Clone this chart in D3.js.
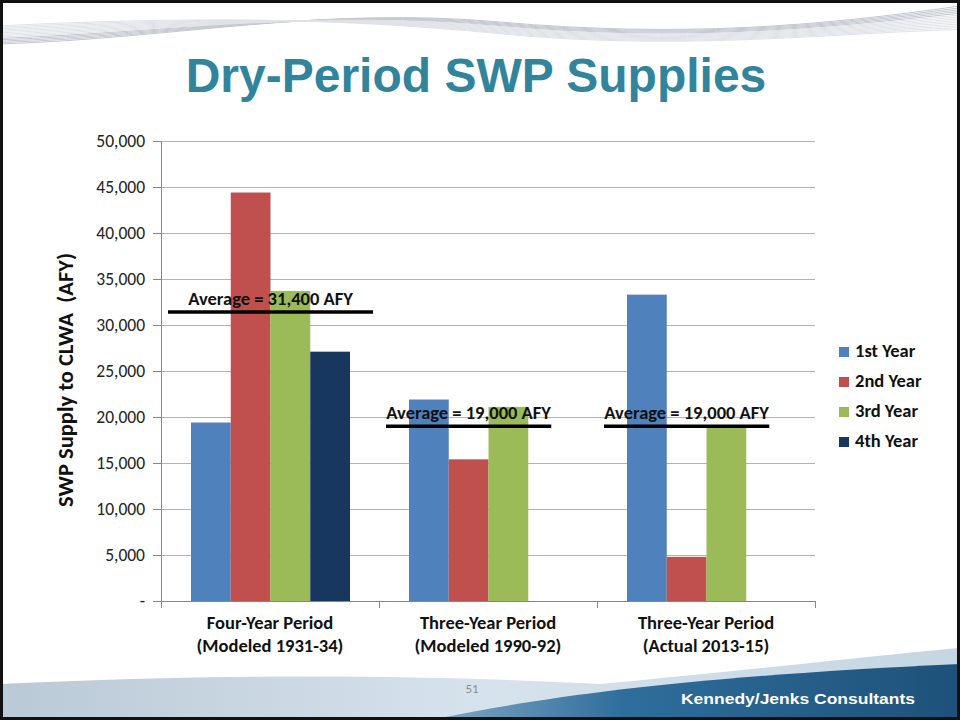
<!DOCTYPE html>
<html>
<head>
<meta charset="utf-8">
<script src="https://cdn.jsdelivr.net/npm/d3@7"></script>
<style>
  body { margin: 0; background: #fff; }
  svg { display: block; }
</style>
</head>
<body>
<div id="chart"></div>
<script>
    var categories = ["Four-Year Period", "Three-Year Period", "Three-Year Period "];
    var categorySub = ["(Modeled 1931-34)", "(Modeled 1990-92)", "(Actual 2013-15)"];
    var seriesNames = ["1st Year", "2nd Year", "3rd Year", "4th Year"];
    var year1 = [19400, 21900, 33300];
    var year2 = [44400, 15400, 4800];
    var year3 = [33700, 21100, 19000];
    var year4 = [27100, null, null];
    var averages = [31400, 19000, 19000];
    var averageLabels = ["Average = 31,400 AFY", "Average = 19,000 AFY", "Average = 19,000 AFY"];
    var yTicks = [0, 5000, 10000, 15000, 20000, 25000, 30000, 35000, 40000, 45000, 50000];
    var yTickLabels = ["-", "5,000", "10,000", "15,000", "20,000", "25,000", "30,000", "35,000", "40,000", "45,000", "50,000"];

    var width = 960;
    var height = 723;
    var calibri = "Carlito, Lato, 'Open Sans', sans-serif";

    var svg = d3.select('#chart').append("svg")
        .attr("width", width)
        .attr("height", height);

    var defs = svg.append("defs");
    var g1 = defs.append("linearGradient").attr("id", "footLight").attr("x1", 0).attr("x2", 1).attr("y1", 0).attr("y2", 0);
    g1.append("stop").attr("offset", 0).attr("stop-color", "#b9c9d6");
    g1.append("stop").attr("offset", 0.5).attr("stop-color", "#d7e3ec");
    g1.append("stop").attr("offset", 1).attr("stop-color", "#c4d6e4");
    var g2 = defs.append("linearGradient").attr("id", "footDark").attr("x1", 0).attr("x2", 1).attr("y1", 0).attr("y2", 0);
    g2.append("stop").attr("offset", 0).attr("stop-color", "#7fa6c4");
    g2.append("stop").attr("offset", 0.35).attr("stop-color", "#2f6e9c");
    g2.append("stop").attr("offset", 1).attr("stop-color", "#1d5179");

    // top swoosh
    var swoosh = svg.append("g").attr("fill", "none");
    for (var i = 0; i < 14; i++) {
      swoosh.append("path")
        .attr("d", "M0," + (44 - i * 1.4) + " C180," + (38 - i * 1.6) + " 320," + (6 + i * 0.8) +
              " 500," + (22 + i * 0.9) + " S820," + (26 + i * 0.6) + " 960," + (6 + i * 1.8))
        .attr("stroke", i < 5 ? "#c3c9d1" : "#dfe3e8")
        .attr("stroke-width", 1);
    }

    // footer
    svg.append("path")
        .attr("d", "M0,684 C250,672 450,676 600,684 C750,670 880,655 960,648 L960,718 L0,718 Z")
        .attr("fill", "url(#footLight)");
    svg.append("path")
        .attr("d", "M440,718 C560,694 700,676 960,664 L960,718 Z")
        .attr("fill", "url(#footDark)");
    svg.append("text")
        .attr("x", 681).attr("y", 704)
        .attr("font-family", "'Liberation Sans', Arial, sans-serif")
        .attr("font-weight", "bold")
        .attr("font-size", 15.5)
        .attr("textLength", 234)
        .attr("lengthAdjust", "spacingAndGlyphs")
        .attr("fill", "#fff")
        .text("Kennedy/Jenks Consultants");
    svg.append("text")
        .attr("x", 472).attr("y", 693)
        .attr("text-anchor", "middle")
        .attr("font-family", calibri)
        .attr("font-size", 13)
        .attr("fill", "#8c8c8c")
        .text("51");

    // frame
    svg.append("rect")
        .attr("x", 1.5).attr("y", 1.5)
        .attr("width", width - 3).attr("height", height - 6)
        .attr("fill", "none")
        .attr("stroke", "#111")
        .attr("stroke-width", 3);

    // title
    svg.append("text")
        .attr("x", 476).attr("y", 92)
        .attr("text-anchor", "middle")
        .attr("font-family", "'Liberation Sans', Arial, sans-serif")
        .attr("font-weight", "bold")
        .attr("font-size", 48)
        .attr("fill", "#31849b")
        .text("Dry-Period SWP Supplies");

    var margin = { top: 141, left: 161, right: 145, bottom: 122 };
    var plotW = width - margin.left - margin.right;
    var plotH = height - margin.top - margin.bottom;

    var chart = svg.append("g")
        .attr("transform", "translate(" + margin.left + "," + margin.top + ")");

    var x0 = d3.scaleBand()
        .domain(categories)
        .range([0, plotW]);

    var x1 = d3.scaleBand()
        .domain(seriesNames)
        .range([30, 189]);

    var y = d3.scaleLinear()
        .domain([0, 50000])
        .range([plotH, 0]);

    var color = d3.scaleOrdinal()
        .domain(seriesNames)
        .range(["#4f81bd", "#c0504d", "#9bbb59", "#17375e"]);

    // gridlines
    chart.append("g")
        .selectAll("line")
        .data(yTicks.slice(1))
        .enter().append("line")
          .attr("x1", 0).attr("x2", plotW)
          .attr("y1", function(d) { return Math.round(y(d)) + 0.5; })
          .attr("y2", function(d) { return Math.round(y(d)) + 0.5; })
          .attr("stroke", "#b3b3b3");

    var yAxis = chart.append("g")
        .attr("class", "y axis")
        .call(d3.axisLeft(y).tickValues(yTicks).tickSize(8).tickPadding(8)
              .tickFormat(function(d, i) { return yTickLabels[i]; }));
    yAxis.select(".domain").attr("stroke", "#868686");
    yAxis.selectAll(".tick line").attr("stroke", "#868686");
    yAxis.selectAll("text")
        .attr("font-family", calibri)
        .attr("font-size", 17.5)
        .attr("fill", "#222");

    var xAxis = chart.append("g")
        .attr("class", "x axis")
        .attr("transform", "translate(0," + plotH + ")");
    xAxis.append("line")
        .attr("x1", 0).attr("x2", plotW)
        .attr("y1", 0.5).attr("y2", 0.5)
        .attr("stroke", "#868686");
    xAxis.selectAll(".xtick")
        .data(d3.range(categories.length + 1))
        .enter().append("line")
          .attr("x1", function(d) { return Math.round(d * x0.bandwidth()) + 0.5; })
          .attr("x2", function(d) { return Math.round(d * x0.bandwidth()) + 0.5; })
          .attr("y1", 0).attr("y2", 7)
          .attr("stroke", "#868686");

    var labels = xAxis.selectAll(".xlabel")
        .data(categories)
        .enter().append("text")
          .attr("text-anchor", "middle")
          .attr("font-family", calibri)
          .attr("font-weight", "bold")
          .attr("font-size", 18.5)
          .attr("fill", "#111")
          .attr("transform", function(d) { return "translate(" + (x0(d) + x0.bandwidth() / 2) + ",0)"; });
    labels.append("tspan").attr("x", 0).attr("y", 28).text(function(d) { return d.trim(); });
    labels.append("tspan").attr("x", 0).attr("y", 51).text(function(d, i) { return categorySub[i]; });

    // bars
    var table = categories.map(function(c, i) {
      return { cat: c, values: [year1[i], year2[i], year3[i], year4[i]] };
    });

    chart.append("g")
        .selectAll("g")
        .data(table)
        .enter().append("g")
          .attr("transform", function(d) { return "translate(" + x0(d.cat) + ",0)"; })
        .selectAll("rect")
        .data(function(d) {
          return seriesNames.map(function(key, k) { return { key: key, value: d.values[k] }; })
                            .filter(function(e) { return e.value != null; });
        })
        .enter().append("rect")
          .attr("x", function(d) { return x1(d.key); })
          .attr("y", function(d) { return y(d.value); })
          .attr("width", x1.bandwidth())
          .attr("height", function(d) { return plotH - y(d.value); })
          .attr("fill", function(d) { return color(d.key); });

    // average lines
    var avg = chart.append("g")
        .selectAll("g")
        .data(table)
        .enter().append("g");

    function avgExtent(d) {
      var present = seriesNames.filter(function(k, j) { return d.values[j] != null; });
      var a = x0(d.cat) + x1(present[0]) - 23;
      var b = x0(d.cat) + x1(present[present.length - 1]) + x1.bandwidth() + 23;
      return [a, b];
    }

    avg.append("line")
        .attr("x1", function(d) { return avgExtent(d)[0]; })
        .attr("x2", function(d) { return avgExtent(d)[1]; })
        .attr("y1", function(d, i) { return y(averages[i]); })
        .attr("y2", function(d, i) { return y(averages[i]); })
        .attr("stroke", "#000")
        .attr("stroke-width", 3.5);

    avg.append("text")
        .attr("x", function(d) { var e = avgExtent(d); return (e[0] + e[1]) / 2; })
        .attr("y", function(d, i) { return y(averages[i]) - 7; })
        .attr("text-anchor", "middle")
        .attr("font-family", calibri)
        .attr("font-weight", "bold")
        .attr("font-size", 18.5)
        .attr("fill", "#111")
        .text(function(d, i) { return averageLabels[i]; });

    // y title
    svg.append("text")
        .attr("transform", "translate(73,380) rotate(-90)")
        .attr("text-anchor", "middle")
        .attr("font-family", calibri)
        .attr("font-weight", "bold")
        .attr("font-size", 22.5)
        .attr("fill", "#111")
        .attr("xml:space", "preserve")
        .text("SWP Supply to CLWA  (AFY)");

    // legend
    var legend = svg.append("g")
        .selectAll("g")
        .data(seriesNames)
        .enter().append("g")
          .attr("transform", function(d, i) { return "translate(839," + (347 + i * 30) + ")"; });

    legend.append("rect")
        .attr("width", 10)
        .attr("height", 10)
        .attr("fill", color);

    legend.append("text")
        .attr("x", 16)
        .attr("y", 10)
        .attr("font-family", calibri)
        .attr("font-weight", "bold")
        .attr("font-size", 18.5)
        .attr("fill", "#111")
        .text(function(d) { return d; });
</script>
</body>
</html>
